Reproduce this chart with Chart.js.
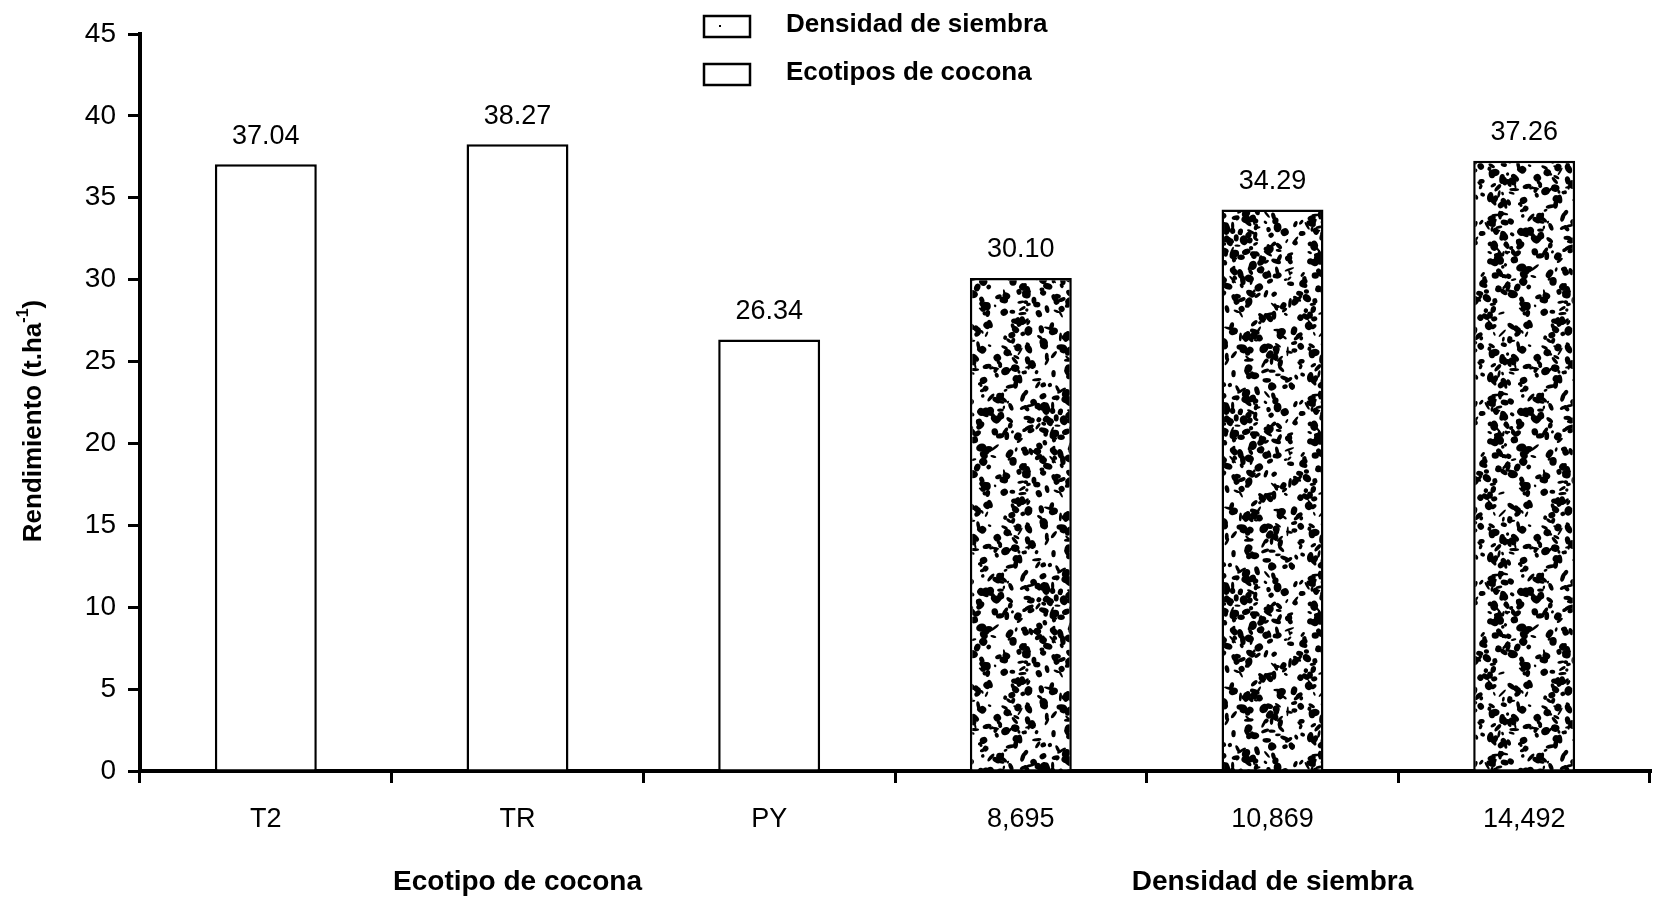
<!DOCTYPE html>
<html>
<head>
<meta charset="utf-8">
<script src="https://cdn.jsdelivr.net/npm/chart.js@4"></script>
<style>
  html, body { margin: 0; padding: 0; background: #fff; }
  #wrap { width: 1655px; height: 904px; }
</style>
</head>
<body>
<div id="wrap"><canvas id="chart" width="1655" height="904"></canvas></div>
<script>
const categories = ['T2', 'TR', 'PY', '8,695', '10,869', '14,492'];
const ecotipoValues = [37.04, 38.27, 26.34, null, null, null];
const densidadValues = [null, null, null, 30.10, 34.29, 37.26];
const yTicks = [0, 5, 10, 15, 20, 25, 30, 35, 40, 45];
const groupTitles = [
  { text: 'Ecotipo de cocona', at: 1 },
  { text: 'Densidad de siembra', at: 4 }
];
const yTitle = 'Rendimiento (t.ha';
const yTitleSup = '-1';

const FONT = '"Liberation Sans", Arial, sans-serif';

// speckled black/white fill like the scanned bars
function makeSpeckle() {
  const size = 180;
  const c = document.createElement('canvas');
  c.width = size; c.height = size;
  const g = c.getContext('2d');
  g.fillStyle = '#fff';
  g.fillRect(0, 0, size, size);
  g.fillStyle = '#000';
  let seed = 12345;
  const rnd = () => (seed = (seed * 16807) % 2147483647) / 2147483647;
  for (let i = 0; i < 520; i++) {
    const x = rnd() * size, y = rnd() * size;
    const rx = 1 + rnd() * 3.2, ry = 1.2 + rnd() * 4, rot = rnd() * Math.PI;
    for (let dx = -size; dx <= size; dx += size) {
      for (let dy = -size; dy <= size; dy += size) {
        g.beginPath();
        g.ellipse(x + dx, y + dy, rx, ry, rot, 0, Math.PI * 2);
        g.fill();
      }
    }
  }
  return g.createPattern(c, 'repeat');
}

const speckle = makeSpeckle();

const extras = {
  id: 'extras',
  afterDatasetsDraw(chart) {
    const ctx = chart.ctx;
    const x = chart.scales.x;
    ctx.save();
    ctx.fillStyle = '#000';

    // value labels above bars
    ctx.font = '27px ' + FONT;
    ctx.textAlign = 'center';
    ctx.textBaseline = 'middle';
    chart.data.datasets.forEach((ds, di) => {
      chart.getDatasetMeta(di).data.forEach((bar, i) => {
        if (ds.data[i] == null) return;
        ctx.fillText(ds.data[i].toFixed(2), bar.x, bar.y - 28);
      });
    });

    // group titles under the x axis
    ctx.font = 'bold 28px ' + FONT;
    groupTitles.forEach((t) => {
      ctx.fillText(t.text, x.getPixelForValue(t.at), 882);
    });

    // y axis title with superscript
    ctx.translate(34, 421);
    ctx.rotate(-Math.PI / 2);
    ctx.textAlign = 'left';
    ctx.font = 'bold 26px ' + FONT;
    const w1 = ctx.measureText(yTitle).width;
    const w3 = ctx.measureText(')').width;
    ctx.font = 'bold 16px ' + FONT;
    const w2 = ctx.measureText(yTitleSup).width;
    let px = -(w1 + w2 + w3) / 2;
    ctx.font = 'bold 26px ' + FONT;
    ctx.fillText(yTitle, px, 0);
    px += w1;
    ctx.font = 'bold 16px ' + FONT;
    ctx.fillText(yTitleSup, px, -10);
    px += w2;
    ctx.font = 'bold 26px ' + FONT;
    ctx.fillText(')', px, 0);
    ctx.setTransform(1, 0, 0, 1, 0, 0);

    // legend, stacked
    ctx.font = 'bold 26px ' + FONT;
    ctx.textBaseline = 'middle';
    const items = [chart.data.datasets[1], chart.data.datasets[0]];
    items.forEach((ds, i) => {
      const top = 16 + i * 48;
      ctx.fillStyle = '#fff';
      ctx.fillRect(704, top, 46, 21);
      ctx.strokeStyle = '#000';
      ctx.lineWidth = 2.5;
      ctx.strokeRect(704, top, 46, 21);
      if (i === 0) {
        ctx.fillStyle = '#000';
        ctx.fillRect(719, top + 9, 2, 2);
      }
      ctx.fillStyle = '#000';
      ctx.fillText(ds.label, 786, top + 9);
    });
    ctx.restore();
  }
};

new Chart(document.getElementById('chart'), {
  type: 'bar',
  data: {
    labels: categories,
    datasets: [
      {
        label: 'Ecotipos de cocona',
        data: ecotipoValues,
        backgroundColor: '#fff',
        borderColor: '#000',
        borderWidth: 2.5
      },
      {
        label: 'Densidad de siembra',
        data: densidadValues,
        backgroundColor: speckle,
        borderColor: '#000',
        borderWidth: 2.5
      }
    ]
  },
  options: {
    responsive: false,
    animation: false,
    events: [],
    grouped: false,
    categoryPercentage: 1,
    barPercentage: 0.405,
    layout: { padding: { top: 34, right: 5, left: 0, bottom: 0 } },
    plugins: {
      legend: { display: false },
      tooltip: { enabled: false }
    },
    scales: {
      x: {
        offset: true,
        grid: { display: true, offset: true, drawOnChartArea: false, color: '#000', lineWidth: 3, tickLength: 12 },
        border: { color: '#000', width: 4 },
        ticks: { color: '#000', font: { family: FONT, size: 27 }, padding: 20 },
        afterFit: (s) => { s.height = 133; }
      },
      y: {
        min: 0,
        max: 45,
        afterBuildTicks: (s) => { s.ticks = yTicks.map((v) => ({ value: v })); },
        grid: { display: true, drawOnChartArea: false, color: '#000', lineWidth: 3, tickLength: 12 },
        border: { color: '#000', width: 4 },
        ticks: { color: '#000', font: { family: FONT, size: 28 }, padding: 12 },
        afterFit: (s) => { s.width = 140; }
      }
    }
  },
  plugins: [extras]
});
</script>
</body>
</html>
